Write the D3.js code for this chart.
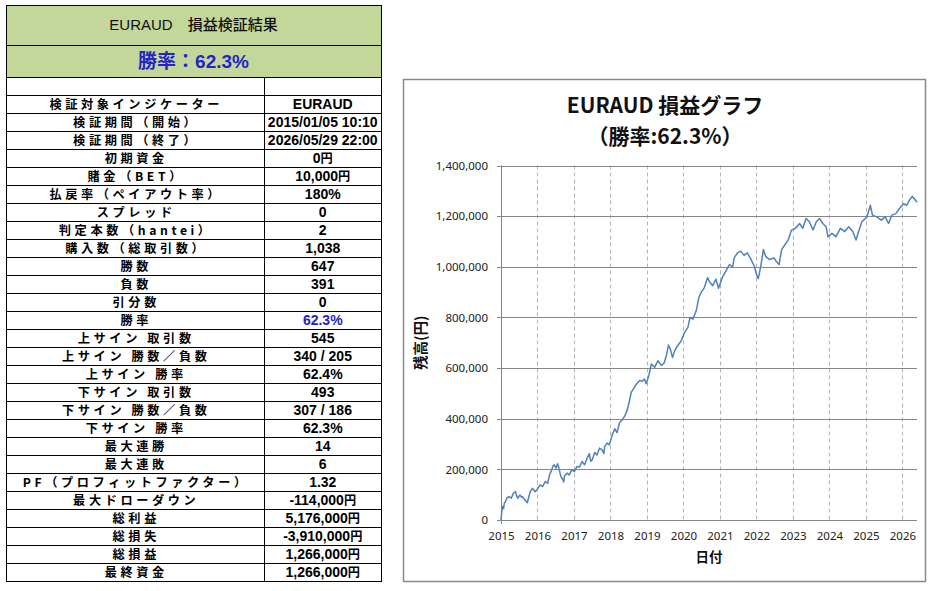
<!DOCTYPE html>
<html><head><meta charset="utf-8">
<script src="https://cdn.jsdelivr.net/npm/d3@7/dist/d3.min.js"></script>
<style>
html,body{margin:0;padding:0;background:#fff;}
svg{display:block;}
</style>
</head><body>
<svg id="c" width="933" height="591"></svg>
<script>
// ---------- data ----------
const tableTitle = "EURAUD\u3000損益検証結果";
const winRateTitle = "勝率：62.3%";
const rowLabels = [
  "", "検証対象インジケーター", "検証期間（開始）", "検証期間（終了）", "初期資金", "賭金（BET）",
  "払戻率（ペイアウト率）", "スプレッド", "判定本数（hantei）", "購入数（総取引数）", "勝数", "負数",
  "引分数", "勝率", "上サイン 取引数", "上サイン 勝数／負数", "上サイン 勝率", "下サイン 取引数",
  "下サイン 勝数／負数", "下サイン 勝率", "最大連勝", "最大連敗", "PF（プロフィットファクター）",
  "最大ドローダウン", "総利益", "総損失", "総損益", "最終資金"
];
const rowValues = [
  "", "EURAUD", "2015/01/05 10:10", "2026/05/29 22:00", "0円", "10,000円",
  "180%", "0", "2", "1,038", "647", "391",
  "0", "62.3%", "545", "340 / 205", "62.4%", "493",
  "307 / 186", "62.3%", "14", "6", "1.32",
  "-114,000円", "5,176,000円", "-3,910,000円", "1,266,000円", "1,266,000円"
];
const highlightRow = "勝率";

const chartTitle1 = "EURAUD 損益グラフ";
const chartTitle2 = "（勝率:62.3%）";
const yAxisTitle = "残高(円)";
const xAxisTitle = "日付";
const yTicks = [0, 200000, 400000, 600000, 800000, 1000000, 1200000, 1400000];
const xTicks = [2015, 2016, 2017, 2018, 2019, 2020, 2021, 2022, 2023, 2024, 2025, 2026];

// equity curve: decimal year, balance (yen)
const years = [
  2015.00,2015.02,2015.04,2015.07,2015.09,2015.13,2015.16,2015.22,2015.28,2015.34,2015.40,2015.43,
  2015.46,2015.52,2015.56,2015.59,2015.66,2015.72,2015.76,2015.80,2015.86,2015.90,2015.94,2016.01,
  2016.07,2016.14,2016.21,2016.28,2016.33,2016.39,2016.43,2016.46,2016.51,2016.55,2016.58,2016.64,
  2016.70,2016.72,2016.74,2016.81,2016.87,2016.94,2017.01,2017.08,2017.15,2017.22,2017.29,2017.36,
  2017.42,2017.46,2017.50,2017.57,2017.63,2017.70,2017.77,2017.82,2017.84,2017.91,2017.97,2018.05,
  2018.12,2018.18,2018.25,2018.32,2018.39,2018.46,2018.52,2018.57,2018.64,2018.70,2018.80,2018.87,
  2018.93,2018.98,2019.05,2019.12,2019.21,2019.30,2019.40,2019.47,2019.53,2019.59,2019.64,2019.70,
  2019.75,2019.81,2019.94,2020.03,2020.12,2020.18,2020.26,2020.35,2020.42,2020.48,2020.57,2020.66,
  2020.72,2020.80,2020.89,2020.96,2021.07,2021.17,2021.26,2021.35,2021.39,2021.48,2021.57,2021.66,
  2021.75,2021.85,2021.94,2022.00,2022.05,2022.12,2022.19,2022.25,2022.35,2022.48,2022.55,2022.62,
  2022.69,2022.78,2022.87,2022.96,2023.07,2023.18,2023.27,2023.36,2023.45,2023.55,2023.64,2023.73,
  2023.82,2023.91,2023.96,2024.07,2024.18,2024.30,2024.42,2024.53,2024.64,2024.73,2024.80,2024.89,
  2025.03,2025.12,2025.18,2025.30,2025.42,2025.53,2025.62,2025.71,2025.82,2025.92,2026.03,2026.12,
  2026.20,2026.27,2026.33,2026.40
];
const balance = [
  0,30000,53000,45000,66000,75000,86000,92000,86000,106000,112000,95000,
  86000,99000,90000,92000,79000,68000,90000,112000,125000,118000,112000,125000,
  139000,132000,152000,145000,178000,198000,215000,218000,205000,222000,209000,172000,
  158000,150000,174000,185000,178000,198000,191000,211000,209000,231000,218000,244000,
  262000,232000,238000,267000,257000,284000,277000,262000,290000,304000,297000,337000,
  360000,345000,385000,395000,410000,435000,470000,505000,520000,535000,551000,548000,
  557000,538000,570000,616000,603000,629000,610000,620000,649000,691000,675000,642000,
  665000,682000,708000,741000,760000,800000,793000,826000,878000,898000,917000,957000,
  940000,925000,951000,915000,960000,985000,1009000,1000000,1035000,1055000,1062000,1045000,
  1055000,1029000,1003000,970000,953000,1003000,1068000,1042000,1029000,1035000,1020000,1009000,
  1068000,1087000,1106000,1145000,1152000,1171000,1152000,1191000,1178000,1145000,1178000,1191000,
  1171000,1158000,1119000,1132000,1119000,1152000,1139000,1158000,1139000,1106000,1139000,1178000,
  1197000,1243000,1204000,1197000,1184000,1197000,1171000,1204000,1210000,1230000,1249000,1243000,
  1265000,1278000,1268000,1255000
];

// ---------- drawing ----------
const svg = d3.select("#c");
const CJK = "'Noto Sans CJK JP','Noto Sans CJK SC',sans-serif";

// ===== table =====
const tL = 6, tR = 381, tMid = 264.5, tTop = 5, h1 = 44.5, h2 = 77, rowH = 18;
const tBottom = h2 + rowH * rowLabels.length;
const tbl = svg.append("g");
tbl.append("rect").attr("x", tL).attr("y", tTop).attr("width", tR - tL).attr("height", h2 - tTop)
  .attr("fill", "#c4d79b");
tbl.append("text").attr("x", (tL + tR) / 2).attr("y", 30).attr("text-anchor", "middle")
  .attr("font-family", "'Liberation Sans'," + CJK).attr("font-size", 15).attr("font-weight", 500).attr("fill", "#111")
  .text(tableTitle);
tbl.append("text").attr("x", (tL + tR) / 2).attr("y", 68).attr("text-anchor", "middle")
  .attr("font-family", "'Liberation Sans'," + CJK).attr("font-size", 19).attr("font-weight", "bold")
  .attr("fill", "#2424c8").text(winRateTitle);

const rowY = d3.scaleLinear().domain([0, rowLabels.length]).range([h2, tBottom]);
const rows = tbl.selectAll("g.row").data(rowLabels.map((l, i) => ({l, v: rowValues[i], i})))
  .join("g").attr("class", "row");
rows.append("text").attr("x", (tL + tMid) / 2 + 1).attr("y", d => rowY(d.i) + 13.8)
  .attr("text-anchor", "middle").attr("font-family", CJK).attr("font-weight", "bold")
  .attr("font-size", 12.2).attr("letter-spacing", "3.6px").attr("fill", "#000").text(d => d.l);

const vt = rows.append("text").attr("x", (tMid + tR) / 2).attr("y", d => rowY(d.i) + 14)
  .attr("text-anchor", "middle").attr("font-family", "'Liberation Sans'," + CJK).attr("font-weight", "bold")
  .attr("font-size", 14).attr("fill", d => d.l === highlightRow ? "#2424c8" : "#000");
vt.each(function(d) {
  const t = d3.select(this);
  const m = d.v.match(/^(.*?)(円?)$/);
  t.append("tspan").text(m[1]);
  if (m[2]) t.append("tspan").attr("font-family", CJK).attr("font-size", 12.2).text(m[2]);
});

// grid lines of table
const lines = tbl.append("g").attr("stroke", "#000").attr("stroke-width", 1).attr("shape-rendering", "crispEdges");
[tTop, h1, h2].concat(d3.range(1, rowLabels.length + 1).map(i => rowY(i))).forEach(y => {
  lines.append("line").attr("x1", tL).attr("x2", tR).attr("y1", Math.round(y) + 0.5).attr("y2", Math.round(y) + 0.5);
});
lines.append("line").attr("x1", tL + 0.5).attr("x2", tL + 0.5).attr("y1", tTop).attr("y2", tBottom + 1);
lines.append("line").attr("x1", tR + 0.5).attr("x2", tR + 0.5).attr("y1", tTop).attr("y2", tBottom + 1);
lines.append("line").attr("x1", tMid).attr("x2", tMid).attr("y1", h2).attr("y2", tBottom + 1);

// ===== chart =====
svg.append("rect").attr("x", 403.5).attr("y", 79.5).attr("width", 522).attr("height", 502)
  .attr("fill", "#fff").attr("stroke", "#8a8a8a").attr("stroke-width", 1.5);

const pL = 501, pR = 917, pT = 165.5, pB = 520;
const x = d3.scaleLinear().domain([2015, 2026.4]).range([pL, pR]);
const y = d3.scaleLinear().domain([0, 1400000]).range([pB, pT]);

const g = svg.append("g");
// vertical dashed grid
g.append("g").selectAll("line").data(xTicks.slice(1)).join("line")
  .attr("x1", d => Math.round(x(d)) + 0.5).attr("x2", d => Math.round(x(d)) + 0.5)
  .attr("y1", pT).attr("y2", pB).attr("stroke", "#b4b4b4").attr("stroke-dasharray", "4,3");
// horizontal grid
g.append("g").selectAll("line").data(yTicks).join("line")
  .attr("x1", pL - 4).attr("x2", pR).attr("y1", d => Math.round(y(d)) + 0.5).attr("y2", d => Math.round(y(d)) + 0.5)
  .attr("stroke", "#868686").attr("stroke-width", 1);
// y axis line
g.append("line").attr("x1", pL + 0.5).attr("x2", pL + 0.5).attr("y1", pT).attr("y2", pB + 4)
  .attr("stroke", "#868686");

// axes labels via d3 axis
const yAxis = d3.axisLeft(y).tickValues(yTicks).tickSize(0).tickPadding(13).tickFormat(d3.format(","));
const ya = svg.append("g").attr("transform", `translate(${pL},0)`).call(yAxis);
ya.select(".domain").remove();
ya.selectAll("text").attr("font-family", "'Noto Sans',sans-serif").attr("font-size", 11.5).attr("fill", "#222");

const xAxis = d3.axisBottom(x).tickValues(xTicks).tickSize(0).tickPadding(12).tickFormat(d3.format("d"));
const xa = svg.append("g").attr("transform", `translate(0,${pB})`).call(xAxis);
xa.select(".domain").remove();
xa.selectAll("text").attr("font-family", "'Noto Sans',sans-serif").attr("font-size", 11.5).attr("fill", "#222");

// line
const pts = years.map((t, i) => [t, balance[i]]);
g.append("path").datum(pts).attr("fill", "none").attr("stroke", "#4f81bd").attr("stroke-width", 1.5)
  .attr("stroke-linejoin", "round")
  .attr("d", d3.line().x(d => x(d[0])).y(d => y(d[1])));

// titles
svg.append("text").attr("x", 665).attr("y", 113).attr("text-anchor", "middle")
  .attr("font-family", CJK).attr("font-weight", "bold").attr("font-size", 21).attr("fill", "#111").text(chartTitle1);
svg.append("text").attr("x", 665).attr("y", 144).attr("text-anchor", "middle")
  .attr("font-family", CJK).attr("font-weight", "bold").attr("font-size", 21).attr("fill", "#111").text(chartTitle2);
svg.append("text").attr("x", (pL + pR) / 2).attr("y", 562).attr("text-anchor", "middle")
  .attr("font-family", CJK).attr("font-weight", "bold").attr("font-size", 13.5).attr("fill", "#111").text(xAxisTitle);
svg.append("text").attr("transform", `translate(426,${(pT + pB) / 2}) rotate(-90)`).attr("text-anchor", "middle")
  .attr("font-family", CJK).attr("font-weight", "bold").attr("font-size", 14.5).attr("fill", "#111").text(yAxisTitle);
</script>
</body></html>
